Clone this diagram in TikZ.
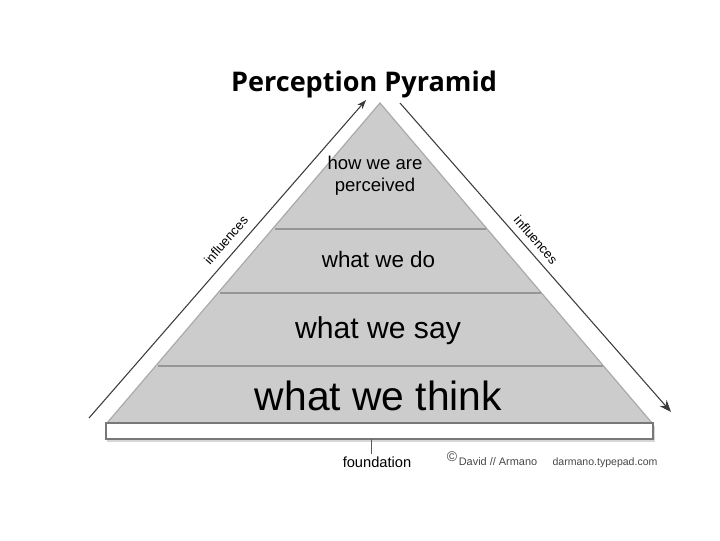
\documentclass[tikz,border=0pt]{standalone}
\usepackage{fontspec}
\setmainfont{Liberation Sans}
\newfontfamily\titlefont{Open Sans}
\usetikzlibrary{arrows.meta}

\definecolor{pyrfill}{RGB}{204,204,204}
\definecolor{pyredge}{RGB}{170,170,170}
\definecolor{bandline}{RGB}{150,150,150}
\definecolor{arrowgray}{RGB}{60,60,60}

\tikzset{every picture/.style={line width=0.75pt}}
\tikzset{
  band text/.style={anchor=base, align=center, text=black},
  infl text/.style={font=\fontsize{9.8}{11}\selectfont, text=black},
  small text/.style={anchor=base, text={rgb,255:red,70;green,70;blue,70}},
  influence/.style={draw=arrowgray, line width=0.8pt},
}

\begin{document}
\begin{tikzpicture}[x=0.75pt,y=0.75pt,yscale=-1,xscale=1]
\useasboundingbox (0,0) rectangle (720,540);

%Shape: Triangle
\coordinate (apex) at (380,103);
\coordinate (baseL) at (107,423);
\coordinate (baseR) at (652,423);
\draw [color=pyredge, fill=pyrfill, line width=0.9] (apex) -- (baseR) -- (baseL) -- cycle ;
%Straight Lines (band borders)
\draw [color=bandline, line width=1.2] (275,229) -- (486,229) ;
\draw [color=bandline, line width=1.2] (220,293) -- (541,293) ;
\draw [color=bandline, line width=1.2] (158,366) -- (603,366) ;

%Shape: Rectangle (foundation) with shadow
\draw [draw=none, fill={rgb,255:red,215;green,215;blue,215}] (107,426) rectangle (655,442) ;
\draw [color={rgb,255:red,120;green,120;blue,120}, fill=white, line width=1.1] (106,423) rectangle (653,439) ;
\coordinate (fndtop) at (371,439);
\coordinate (fndlow) at (371,454);
\draw [color={rgb,255:red,90;green,90;blue,90}, line width=0.7] (fndtop) -- (fndlow) ;

%Straight Lines (influences arrows)
\coordinate (lstart) at (89,418);
\coordinate (lend) at (366,100);
\coordinate (rstart) at (400,103);
\coordinate (rend) at (671,412);
\draw [influence, -{Stealth[length=7,width=5]}] (lstart) -- (lend) ;
\draw [influence, -{Stealth[length=9,width=7]}] (rstart) -- (rend) ;

% Text Node
\draw (364,91) node [anchor=base] (title) {\titlefont\bfseries\fontsize{20.3}{24}\selectfont Perception Pyramid};
% Text Node
\draw (375,191) node [band text, font=\fontsize{13.9}{15.8}\selectfont] (perceived) {how we are\\perceived};
% Text Node
\draw (378.5,267) node [band text, font=\fontsize{16.8}{20}\selectfont] (dolevel) {what we do};
% Text Node
\draw (378,338) node [band text, font=\fontsize{22.6}{26}\selectfont] (saylevel) {what we say};
% Text Node
\draw (378.5,410) node [band text, font=\fontsize{30.6}{36}\selectfont] (thinklevel) {what we think};
% Text Node
\draw (226,240) node [infl text, rotate=49] (inflL) {influences};
% Text Node
\draw (536,240) node [infl text, rotate=-49] (inflR) {influences};
% Text Node
\draw (377,467) node [anchor=base, font=\fontsize{11}{13}\selectfont] (foundation) {foundation};
% Text Node
\draw (452,464) node [anchor=base, font=\fontsize{10.5}{12}\selectfont, text={rgb,255:red,70;green,70;blue,70}] (copy) {\raisebox{2pt}{\char"00A9}};
\draw (498,465) node [small text, font=\fontsize{8.2}{10}\selectfont] (author) {David // Armano};
% Text Node
\draw (605,465) node [small text, font=\fontsize{7.9}{10}\selectfont] (site) {darmano.typepad.com};

\end{tikzpicture}
\end{document}
